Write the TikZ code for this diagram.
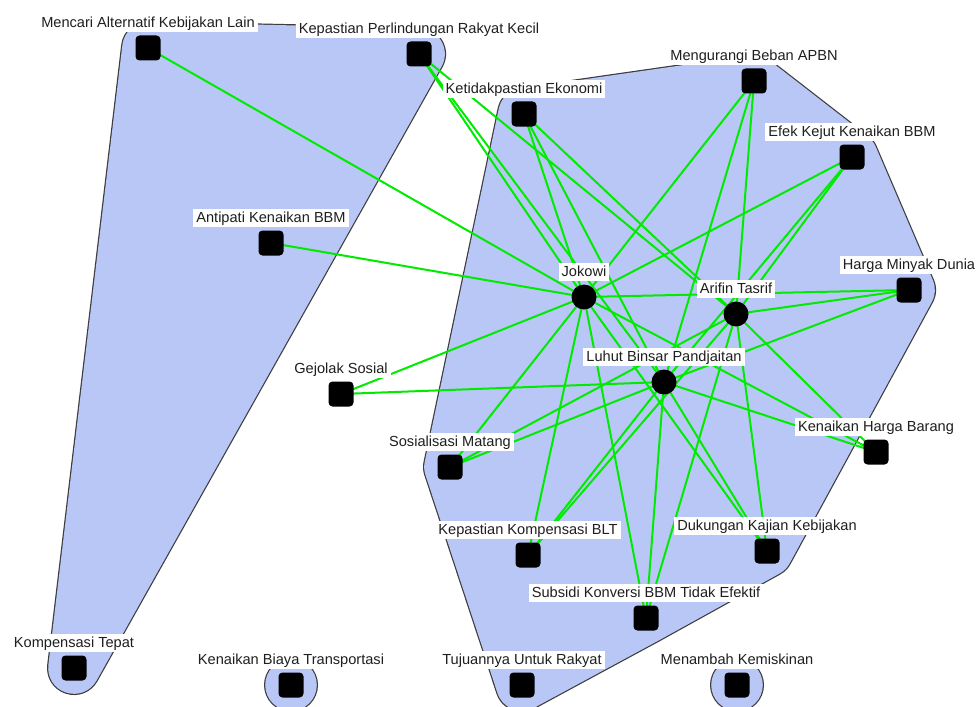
\documentclass[tikz,border=0pt]{standalone}
\usepackage{fontspec}
\setmainfont{Liberation Sans}
\usetikzlibrary{calc}
\pgfdeclarelayer{hulls}
\pgfdeclarelayer{links}
\pgfsetlayers{hulls,links,main}

\definecolor{hullfill}{RGB}{184,199,246}
\definecolor{hulledge}{RGB}{60,60,60}
\definecolor{linkgreen}{RGB}{0,235,0}

\tikzset{
  concept/.style={fill=black, rounded corners=4pt, minimum size=25pt, inner sep=0pt},
  actor/.style={circle, fill=black, minimum size=25pt, inner sep=0pt},
  lbl/.style={fill=white, inner xsep=3pt, inner ysep=2pt, text height=10.8pt,
    text depth=3pt, font=\fontsize{14.6}{16}\selectfont, text=black!88, label distance=3pt},
  link/.style={draw=linkgreen, line width=2pt},
  hullout/.style={draw=hulledge, line width=54pt, line join=round, line cap=round},
  hullin/.style={draw=hullfill, fill=hullfill, line width=51.6pt, line join=round, line cap=round},
}

\begin{document}
\begin{tikzpicture}[x=1pt, y=-1pt]
\useasboundingbox (0,0) rectangle (976,706);

% actors
\node[actor, label={[lbl]above:Jokowi}] (jk) at (584,297) {};
\node[actor, label={[lbl]above:Arifin Tasrif}] (at) at (736,314) {};
\node[actor, label={[lbl]above:Luhut Binsar Pandjaitan}] (lb) at (664,382) {};

% concepts
\node[concept, label={[lbl]above:Mencari Alternatif Kebijakan Lain}] (mak) at (148,48) {};
\node[concept, label={[lbl]above:Kepastian Perlindungan Rakyat Kecil}] (kprk) at (419,54) {};
\node[concept, label={[lbl]above:Ketidakpastian Ekonomi}] (ke) at (524,114) {};
\node[concept, label={[lbl]above:Mengurangi Beban APBN}] (mba) at (754,81) {};
\node[concept, label={[lbl]above:Efek Kejut Kenaikan BBM}] (ekk) at (852,157) {};
\node[concept, label={[lbl]above:Antipati Kenaikan BBM}] (akb) at (271,243) {};
\node[concept, label={[lbl]above:Harga Minyak Dunia}] (hmd) at (909,290) {};
\node[concept, label={[lbl]above:Gejolak Sosial}] (gs) at (341,394) {};
\node[concept, label={[lbl]above:Sosialisasi Matang}] (sm) at (450,467) {};
\node[concept, label={[lbl]above:Kenaikan Harga Barang}] (khb) at (876,452) {};
\node[concept, label={[lbl]above:Kepastian Kompensasi BLT}] (blt) at (528,555) {};
\node[concept, label={[lbl]above:Dukungan Kajian Kebijakan}] (dkk) at (767,551) {};
\node[concept, label={[lbl]above:Subsidi Konversi BBM Tidak Efektif}] (skb) at (646,618) {};
\node[concept, label={[lbl]above:Kompensasi Tepat}] (kt) at (74,668) {};
\node[concept, label={[lbl]above:Kenaikan Biaya Transportasi}] (kbt) at (291,685) {};
\node[concept, label={[lbl]above:Tujuannya Untuk Rakyat}] (tur) at (522,685) {};
\node[concept, label={[lbl]above:Menambah Kemiskinan}] (mk) at (737,685) {};

% group hulls
\begin{pgfonlayer}{hulls}
  \fill[white] (0,0) rectangle (976,706);
  \path[hullout] (mak.center) -- (kprk.center) -- (kt.center) -- cycle;
  \path[hullin]  (mak.center) -- (kprk.center) -- (kt.center) -- cycle;
  \path[hullout] (ke.center) -- (mba.center) -- (ekk.center) -- (hmd.center) -- (dkk.center)
    -- (skb.center) -- (tur.center) -- (sm.center) -- cycle;
  \path[hullin]  (ke.center) -- (mba.center) -- (ekk.center) -- (hmd.center) -- (dkk.center)
    -- (skb.center) -- (tur.center) -- (sm.center) -- cycle;
  \foreach \n in {kbt, mk} {
    \fill[hulledge] (\n.center) circle (27);
    \fill[hullfill] (\n.center) circle (25.8);
  }
\end{pgfonlayer}

% actor--concept links
\begin{pgfonlayer}{links}
  \foreach \c in {mak, akb, gs, sm, blt, skb, dkk, khb, hmd, ekk, mba, ke, kprk}
    \draw[link] (jk.center) -- (\c.center);
  \foreach \c in {kprk, ke, mba, ekk, hmd, khb, dkk, skb, blt, sm}
    \draw[link] (at.center) -- (\c.center);
  \foreach \c in {kprk, ke, mba, ekk, hmd, khb, dkk, skb, blt, sm, gs}
    \draw[link] (lb.center) -- (\c.center);
\end{pgfonlayer}
\end{tikzpicture}
\end{document}
